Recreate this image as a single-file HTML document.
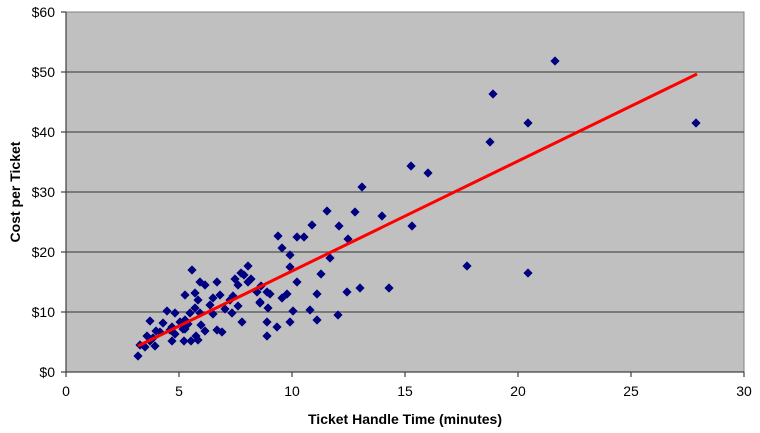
<!DOCTYPE html>
<html><head><meta charset="utf-8"><style>
body{margin:0;background:#fff;}
svg{display:block;font-family:"Liberation Sans",Arial,sans-serif;}
</style></head><body>
<svg width="760" height="433" viewBox="0 0 760 433" xmlns="http://www.w3.org/2000/svg">
<defs><path id="d" d="M0,-4.6 L4.6,0 L0,4.6 L-4.6,0 Z" fill="#000080"/></defs>
<rect x="66" y="12" width="678" height="360" fill="#c0c0c0" stroke="#808080"/>
<g stroke="#505050" stroke-width="1.3">
<line x1="66" y1="72" x2="744" y2="72"/><line x1="66" y1="132" x2="744" y2="132"/>
<line x1="66" y1="192" x2="744" y2="192"/><line x1="66" y1="252" x2="744" y2="252"/>
<line x1="66" y1="312" x2="744" y2="312"/>
</g>
<g stroke="#404040" stroke-width="1.2">
<line x1="66" y1="12" x2="66" y2="372"/><line x1="66" y1="372" x2="744" y2="372"/>
<line x1="61" y1="12" x2="66" y2="12"/><line x1="61" y1="72" x2="66" y2="72"/><line x1="61" y1="132" x2="66" y2="132"/><line x1="61" y1="192" x2="66" y2="192"/><line x1="61" y1="252" x2="66" y2="252"/><line x1="61" y1="312" x2="66" y2="312"/><line x1="61" y1="372" x2="66" y2="372"/>
<line x1="66" y1="372" x2="66" y2="377"/><line x1="179" y1="372" x2="179" y2="377"/><line x1="292" y1="372" x2="292" y2="377"/><line x1="405" y1="372" x2="405" y2="377"/><line x1="518" y1="372" x2="518" y2="377"/><line x1="631" y1="372" x2="631" y2="377"/><line x1="744" y1="372" x2="744" y2="377"/>
</g>
<g font-size="14" text-anchor="end" fill="#000">
<text x="55" y="17">$60</text><text x="55" y="77">$50</text><text x="55" y="137">$40</text><text x="55" y="197">$30</text><text x="55" y="257">$20</text><text x="55" y="317">$10</text><text x="55" y="377">$0</text>
</g>
<g font-size="14" text-anchor="middle" fill="#000">
<text x="66" y="396">0</text><text x="179" y="396">5</text><text x="292" y="396">10</text><text x="405" y="396">15</text><text x="518" y="396">20</text><text x="631" y="396">25</text><text x="744" y="396">30</text>
</g>
<text x="405" y="424" font-size="14" font-weight="bold" text-anchor="middle">Ticket Handle Time (minutes)</text>
<text transform="translate(20,192) rotate(-90)" font-size="14" font-weight="bold" text-anchor="middle">Cost per Ticket</text>
<g>
<use href="#d" x="555" y="61"/><use href="#d" x="493" y="94"/><use href="#d" x="528" y="123"/><use href="#d" x="696" y="123"/><use href="#d" x="490" y="142"/><use href="#d" x="467" y="266"/><use href="#d" x="528" y="273"/>
<use href="#d" x="411" y="166"/><use href="#d" x="428" y="173"/><use href="#d" x="362" y="187"/><use href="#d" x="327" y="211"/><use href="#d" x="382" y="216"/><use href="#d" x="355" y="212"/><use href="#d" x="312" y="225"/><use href="#d" x="339" y="226"/><use href="#d" x="412" y="226"/>
<use href="#d" x="278" y="236"/><use href="#d" x="348" y="239"/><use href="#d" x="304" y="237"/><use href="#d" x="297" y="237"/><use href="#d" x="282" y="248"/><use href="#d" x="290" y="255"/><use href="#d" x="330" y="258"/><use href="#d" x="321" y="274"/><use href="#d" x="290" y="267"/>
<use href="#d" x="251" y="279"/><use href="#d" x="297" y="282"/><use href="#d" x="261" y="286"/><use href="#d" x="360" y="288"/><use href="#d" x="389" y="288"/><use href="#d" x="270" y="294"/><use href="#d" x="317" y="294"/><use href="#d" x="287" y="294"/>
<use href="#d" x="260" y="303"/><use href="#d" x="282" y="298"/><use href="#d" x="347" y="292"/><use href="#d" x="238" y="306"/><use href="#d" x="310" y="310"/><use href="#d" x="338" y="315"/><use href="#d" x="293" y="311"/><use href="#d" x="290" y="322"/><use href="#d" x="317" y="320"/><use href="#d" x="277" y="327"/><use href="#d" x="267" y="336"/>
<use href="#d" x="248" y="266"/><use href="#d" x="241" y="273"/><use href="#d" x="244" y="275"/><use href="#d" x="235" y="279"/><use href="#d" x="217" y="282"/><use href="#d" x="205" y="285"/><use href="#d" x="248" y="282"/><use href="#d" x="238" y="285"/>
<use href="#d" x="185" y="295"/><use href="#d" x="195" y="293"/><use href="#d" x="198" y="300"/><use href="#d" x="213" y="298"/><use href="#d" x="233" y="296"/><use href="#d" x="257" y="292"/><use href="#d" x="267" y="292"/><use href="#d" x="210" y="305"/><use href="#d" x="195" y="308"/><use href="#d" x="225" y="309"/><use href="#d" x="232" y="313"/><use href="#d" x="260" y="302"/><use href="#d" x="268" y="308"/><use href="#d" x="175" y="313"/><use href="#d" x="150" y="321"/><use href="#d" x="185" y="320"/><use href="#d" x="242" y="322"/><use href="#d" x="267" y="322"/><use href="#d" x="172" y="327"/><use href="#d" x="160" y="332"/><use href="#d" x="153" y="338"/><use href="#d" x="140" y="345"/><use href="#d" x="138" y="356"/>
<use href="#d" x="190" y="313"/><use href="#d" x="200" y="313"/><use href="#d" x="213" y="314"/><use href="#d" x="201" y="325"/><use href="#d" x="205" y="331"/><use href="#d" x="217" y="330"/><use href="#d" x="222" y="332"/><use href="#d" x="180" y="322"/><use href="#d" x="188" y="324"/><use href="#d" x="183" y="329"/><use href="#d" x="167" y="311"/><use href="#d" x="163" y="323"/><use href="#d" x="170" y="330"/><use href="#d" x="175" y="334"/><use href="#d" x="172" y="341"/><use href="#d" x="191" y="341"/><use href="#d" x="198" y="340"/><use href="#d" x="196" y="336"/><use href="#d" x="185" y="329"/><use href="#d" x="184" y="341"/><use href="#d" x="156" y="331"/><use href="#d" x="147" y="336"/><use href="#d" x="150" y="341"/><use href="#d" x="155" y="346"/><use href="#d" x="145" y="347"/><use href="#d" x="200" y="282"/><use href="#d" x="192" y="270"/><use href="#d" x="220" y="295"/><use href="#d" x="230" y="300"/>
</g>
<line x1="138" y1="346" x2="697" y2="74" stroke="#ff0000" stroke-width="3"/>
</svg>
</body></html>
